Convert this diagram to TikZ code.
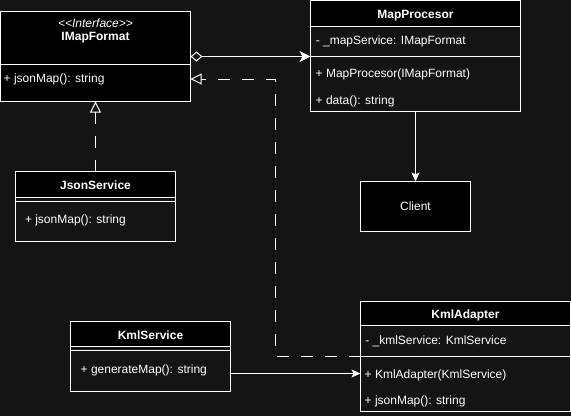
\documentclass[tikz,border=0pt]{standalone}
\usepackage{fontspec}
\setmainfont{Liberation Sans}
\usetikzlibrary{arrows.meta}
\definecolor{bgc}{HTML}{141414}
\begin{document}
\begin{tikzpicture}[x=1pt,y=-1pt,
  box/.style={draw=white, line width=1pt, outer sep=0pt, inner sep=0pt, anchor=north west, rectangle},
  hdr/.style={box, fill=black},
  cmp/.style={box, fill=bgc},
  lbl/.style={text=white, font=\fontsize{12}{14}\selectfont, inner sep=0pt, anchor=base west},
  ttl/.style={text=white, font=\fontsize{12}{14}\selectfont\bfseries, inner sep=0pt, anchor=base},
  wire/.style={draw=white, line width=1pt},
  dashwire/.style={wire, dash pattern=on 12pt off 12pt},
  assoc/.style={-{Stealth[length=9pt,width=8pt,inset=2pt]}},
  aggrassoc/.style={{Diamond[open,length=12pt,width=10pt]}-{Stealth[length=11pt,width=11pt,inset=3pt]}},
  realize/.style={-{Triangle[open,length=11pt,width=11pt]}},
]
% canvas
\fill[bgc] (0,0) rectangle (571,416);
\useasboundingbox (0,0) rectangle (571,416);

% IMapFormat (interface)
\node[hdr, minimum width=190pt, minimum height=90pt] (imf) at (0.5,11.5) {};
\coordinate (imfdiv) at (0.5,64);
\draw[wire] (imfdiv) -- (imfdiv -| imf.east);
\node[lbl, anchor=base, font=\fontsize{12}{14}\selectfont\itshape] (imfst) at (95.5,27) {<\kern0pt<Interface>\kern0pt>};
\node[ttl] (imft) at (95.5,40) {IMapFormat};
\node[lbl] (imfm) at (3.5,82) {+ jsonMap(): string};
\coordinate (imfport) at (190.5,79);

% MapProcesor
\node[cmp, minimum width=210pt, minimum height=111pt] (mp) at (310.5,0.5) {};
\node[hdr, minimum width=210pt, minimum height=26pt] (mph) at (mp.north west) {};
\node[box, minimum width=210pt, minimum height=55pt] (mpo) at (310.5,56.5) {};
\node[ttl] (mpt) at (415.5,18) {MapProcesor};
\node[lbl] (mpa) at (315.6,44) {- \_mapService: IMapFormat};
\node[lbl] (mpm1) at (315.5,77) {+ MapProcesor(IMapFormat)};
\node[lbl] (mpm2) at (315.5,104) {+ data(): string};

% JsonService
\node[cmp, minimum width=160pt, minimum height=70pt] (jsn) at (15.5,171.5) {};
\node[hdr, minimum width=160pt, minimum height=26pt] (jsnh) at (jsn.north west) {};
\node[box, minimum width=160pt, minimum height=40pt] (jsno) at (15.5,201.5) {};
\node[ttl] (jsnt) at (95.5,189) {JsonService};
\node[lbl] (jsnm) at (24.8,223) {+ jsonMap(): string};

% Client
\node[hdr, minimum width=110pt, minimum height=50pt, anchor=center, text=white,
      font=\fontsize{12}{14}\selectfont] (cl) at (415.5,206.5) {Client};

% KmlService
\node[cmp, minimum width=160pt, minimum height=70pt] (ks) at (70.5,321.5) {};
\node[hdr, minimum width=160pt, minimum height=25pt] (ksh) at (ks.north west) {};
\node[box, minimum width=160pt, minimum height=41pt] (kso) at (70.5,350.5) {};
\node[ttl] (kst) at (150.5,339) {KmlService};
\node[lbl] (ksm) at (80.5,373) {+ generateMap(): string};

% KmlAdapter
\node[cmp, minimum width=210pt, minimum height=110pt] (ka) at (360.5,301.5) {};
\node[hdr, minimum width=210pt, minimum height=24pt] (kah) at (ka.north west) {};
\node[box, minimum width=210pt, minimum height=55pt] (kao) at (360.5,356.5) {};
\node[ttl] (kat) at (465.5,318) {KmlAdapter};
\node[lbl] (kaa) at (365.1,344) {- \_kmlService: KmlService};
\node[lbl] (kam1) at (364.5,378) {+ KmlAdapter(KmlService)};
\node[lbl] (kam2) at (364.5,404) {+ jsonMap(): string};
\coordinate (kaport) at (360.5,373.5);
\coordinate (kabend) at (275.5,356.5);

% relations
\draw[wire, aggrassoc] (imf.east |- mpo.north west) -- (mpo.north west);
\draw[wire, assoc] (mp.south) -- (cl.north);
\draw[dashwire, realize] (jsnh.north) -- (imf.south);
\draw[dashwire, realize] (kao.north west) -- (kabend) |- (imfport);
\draw[wire, assoc] (ks.east |- kaport) -- (kaport);
\end{tikzpicture}
\end{document}
